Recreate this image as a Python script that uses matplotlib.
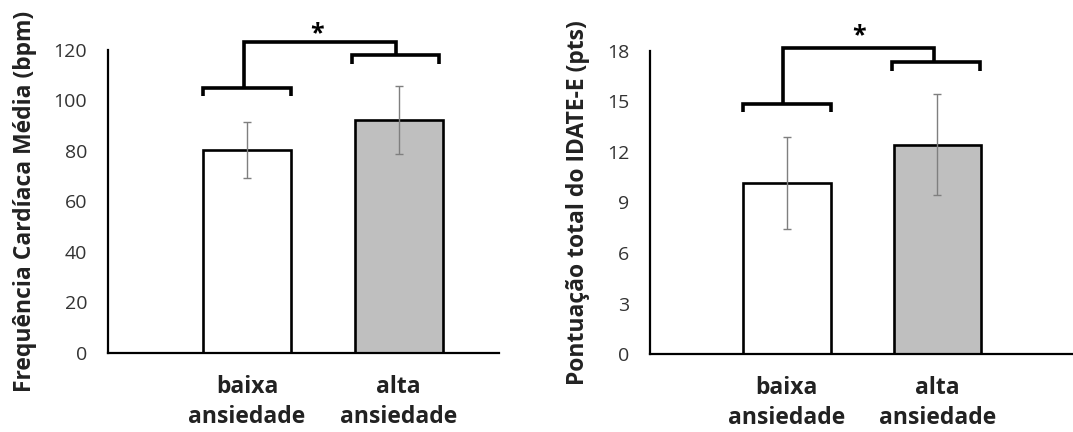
import matplotlib
matplotlib.use("Agg")
import matplotlib.pyplot as plt
import numpy as np

plt.rcParams['font.family'] = ['Open Sans', 'DejaVu Sans']

# data
grupos = ['baixa\nansiedade', 'alta\nansiedade']
fc_media = [80.3, 92.3]
fc_dp = [11.1, 13.5]
idate_media = [10.15, 12.43]
idate_dp = [2.75, 3.0]

fc_ticks = [0, 20, 40, 60, 80, 100, 120]
idate_ticks = [0, 3, 6, 9, 12, 15, 18]

cores = ['white', '#bfbfbf']


def linha(ax, xs, ys):
    ax.plot(xs, ys, color='black', lw=2.6, solid_capstyle='butt',
            solid_joinstyle='miter', clip_on=False)


def painel(ax, medias, dps, ticks, ylabel, xlim, width, br, star):
    x = np.arange(len(medias))
    ax.bar(x, medias, width=width, color=cores, edgecolor='black', linewidth=1.9, zorder=2)
    ax.errorbar(x, medias, yerr=dps, fmt='none', ecolor='#7f7f7f', elinewidth=1.0,
                capsize=3, capthick=1.0, zorder=3)
    ax.set_xlim(*xlim)
    ax.set_ylim(ticks[0], ticks[-1])
    ax.set_yticks(ticks)
    ax.set_xticks(x)
    ax.set_xticklabels(grupos, fontsize=16.5, fontweight='bold', color='#222222', linespacing=1.3)
    ax.tick_params(axis='y', length=0, pad=15, labelsize=14, labelcolor='#333333')
    ax.tick_params(axis='x', length=0, pad=16)
    for s in ['top', 'right']:
        ax.spines[s].set_visible(False)
    for s in ['left', 'bottom']:
        ax.spines[s].set_linewidth(1.6)
        ax.spines[s].set_color('black')
    ax.set_ylabel(ylabel, fontsize=16.5, fontweight='bold', color='#222222', labelpad=12)

    # brackets over each bar, then the one joining them
    tops = []
    for i, (dx0, dx1, y, leg) in enumerate(br[:2]):
        linha(ax, [i + dx0, i + dx0, i + dx1, i + dx1], [y - leg, y, y, y - leg])
        tops.append(y)
    tx0, tx1, ty = br[2]
    linha(ax, [tx0, tx0, 1 + tx1, 1 + tx1], [tops[0], ty, ty, tops[1]])
    ax.text(star[0], star[1], '*', ha='center', va='center', fontsize=18,
            fontweight='bold', clip_on=False)


fig = plt.figure(figsize=(10.73, 4.32), dpi=100)
ax1 = fig.add_axes([0.1007, 0.1829, 0.3644, 0.7014])
ax2 = fig.add_axes([0.6058, 0.18, 0.394, 0.7028])

painel(ax1, fc_media, fc_dp, fc_ticks, 'Frequência Cardíaca Média (bpm)',
       (-0.917, 1.663), 0.58,
       [(-0.29, 0.29, 105.0, 3.2), (-0.307, 0.267, 117.9, 3.6), (-0.02, -0.02, 123.2)],
       (0.46, 126.5))
painel(ax2, idate_media, idate_dp, idate_ticks, 'Pontuação total do IDATE-E (pts)',
       (-0.91, 1.90), 0.583,
       [(-0.29, 0.29, 14.82, 0.48), (-0.30, 0.28, 17.31, 0.51), (-0.025, -0.02, 18.14)],
       (0.48, 18.9))

fig.savefig('out.png', dpi=100)
